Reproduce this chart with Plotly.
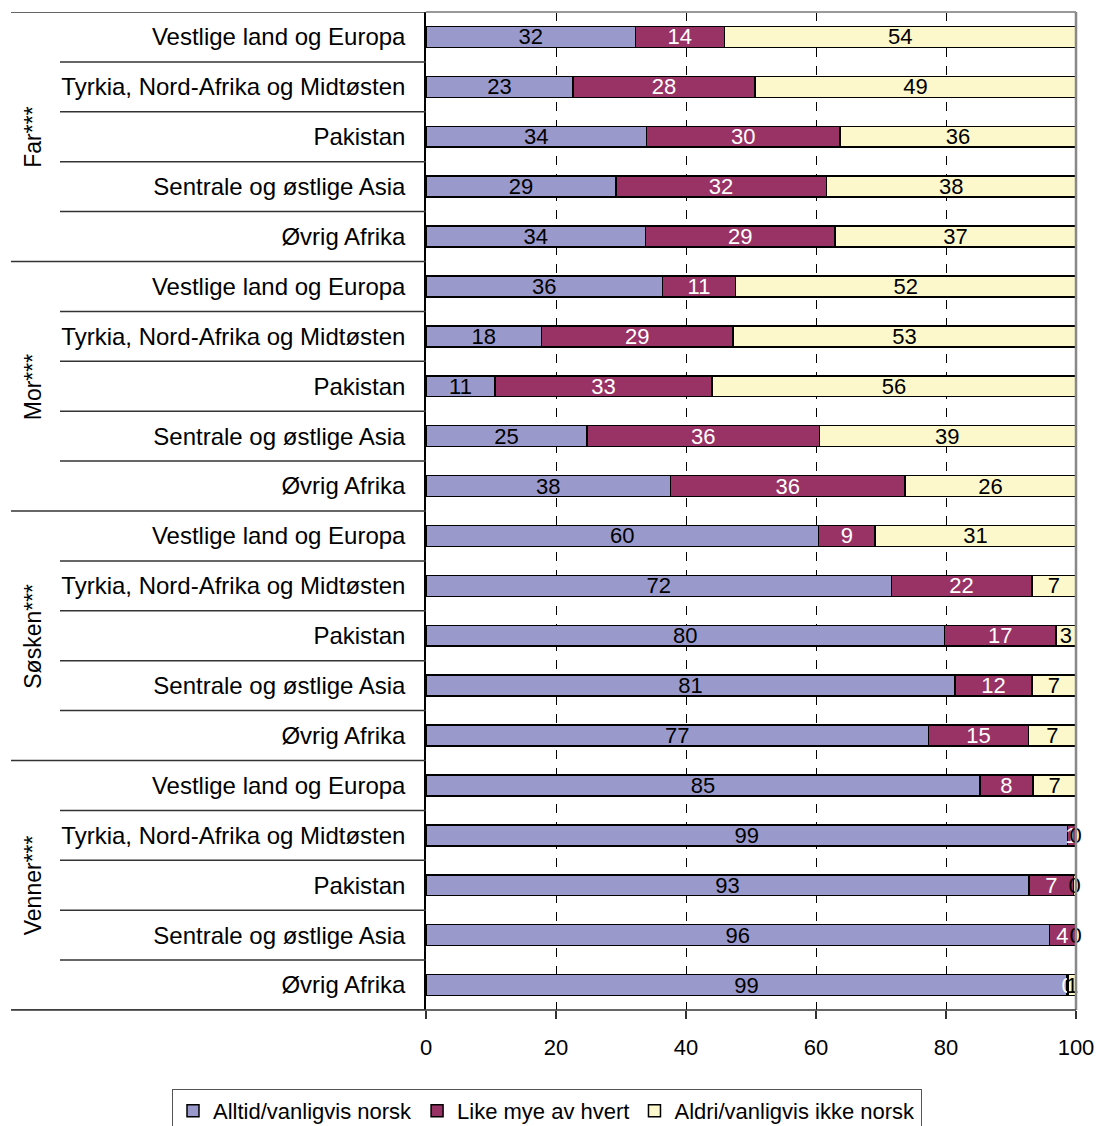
import plotly.graph_objects as go

groups = ["Far***", "Mor***", "Søsken***", "Venner***"]
regions = ["Vestlige land og Europa", "Tyrkia, Nord-Afrika og Midtøsten", "Pakistan",
           "Sentrale og østlige Asia", "Øvrig Afrika"]
series_names = ["Alltid/vanligvis norsk", "Like mye av hvert", "Aldri/vanligvis ikke norsk"]

alltid = [32.2, 22.6, 33.9, 29.2, 33.8,
          36.4, 17.8, 10.6, 24.8, 37.6,
          60.4, 71.6, 79.8, 81.4, 77.3,
          85.2, 98.7, 92.8, 95.9, 98.6]
like = [13.7, 28.0, 29.8, 32.4, 29.1,
        11.2, 29.4, 33.4, 35.7, 36.1,
        8.7, 21.6, 17.1, 11.8, 15.4,
        8.2, 1.2, 6.8, 4.0, 0.2]
aldri = [54.1, 49.4, 36.3, 38.4, 37.1,
         52.4, 52.8, 56.0, 39.4, 26.3,
         30.9, 6.8, 3.1, 6.8, 7.3,
         6.6, 0.1, 0.4, 0.1, 1.2]

x_ticks = [0, 20, 40, 60, 80, 100]

colors = ["#9999cc", "#993366", "#fcf8cc"]
text_colors = ["black", "white", "black"]

W, H = 1098, 1126
PL, PR, PT, PB = 426, 1076, 12, 1010  # plot area in page pixels
L, R, T, B = PL, W - PR, PT, H - PB
pw = PR - PL
ph = PB - PT

ypos = list(range(len(groups) * len(regions)))
ticktext = [r for g in groups for r in regions]

FONT = "Liberation Sans, Arial, sans-serif"

fig = go.Figure()
for name, vals, c, tc in zip(series_names, [alltid, like, aldri], colors, text_colors):
    fig.add_trace(go.Bar(
        x=vals, y=ypos, orientation="h", name=name,
        marker=dict(color=c, line=dict(color="black", width=1.5)),
        width=0.42,
        text=[f"{v:.0f}" for v in vals],
        textposition="inside", insidetextanchor="middle",
        textangle=0, constraintext="none", cliponaxis=False,
        textfont=dict(color=tc, size=22, family=FONT),
    ))

def px_x(p):
    return (p - PL) / pw

def px_y(p):
    return (PB - p) / ph

shapes = []
n = len(ypos)
for k in range(0, n + 1):
    yv = k - 0.5
    x0 = px_x(11) if k % 5 == 0 else px_x(60)
    shapes.append(dict(type="line", xref="paper", yref="y", x0=x0, x1=0, y0=yv, y1=yv,
                       line=dict(color="#333333", width=1.5), layer="above"))
shapes.append(dict(type="line", xref="paper", yref="paper", x0=0, x1=1, y0=1, y1=1,
                   line=dict(color="#999999", width=2)))
shapes.append(dict(type="line", xref="paper", yref="paper", x0=1, x1=1, y0=0, y1=1,
                   line=dict(color="#888888", width=2.5)))
shapes.append(dict(type="line", xref="paper", yref="paper", x0=px_x(11), x1=1, y0=0, y1=0,
                   line=dict(color="#333333", width=1.5)))

annotations = []
for gi, g in enumerate(groups):
    annotations.append(dict(text=g, xref="paper", yref="y", x=px_x(33), y=gi * 5 + 2,
                            textangle=-90, showarrow=False,
                            font=dict(size=23, family=FONT, color="black"),
                            xanchor="center", yanchor="middle"))

fig.update_layout(
    barmode="stack",
    width=W, height=H,
    margin=dict(l=L, r=R, t=T, b=B, pad=0, autoexpand=False),
    paper_bgcolor="white", plot_bgcolor="white",
    font=dict(family=FONT, size=22, color="black"),
    shapes=shapes, annotations=annotations,
    showlegend=True,
    legend=dict(orientation="h", x=px_x(172), xanchor="left", y=px_y(1089), yanchor="top",
                bordercolor="#555555", borderwidth=1, font=dict(size=22, family=FONT),
                traceorder="normal", itemwidth=30, tracegroupgap=0),
    xaxis=dict(range=[0, 100], tickvals=x_ticks, ticktext=[str(v) for v in x_ticks],
               showgrid=True, gridcolor="black", griddash="dash", gridwidth=1,
               zeroline=False, showline=False, ticks="outside", ticklen=8, tickcolor="#333333",
               tickwidth=1.5, tickfont=dict(size=22, family=FONT), ticklabelstandoff=10,
               automargin=False, fixedrange=True),
    yaxis=dict(range=[n - 0.5, -0.5], tickvals=ypos, ticktext=ticktext,
               showgrid=False, zeroline=False, showline=True, linecolor="black", linewidth=1.5,
               ticks="", tickfont=dict(size=24, family=FONT), ticklabelstandoff=14,
               automargin=False, fixedrange=True),
)

fig.write_html(
    "out.html",
    config={"displayModeBar": False},
    post_script="document.body.style.margin='0';document.body.style.overflow='hidden';",
)
